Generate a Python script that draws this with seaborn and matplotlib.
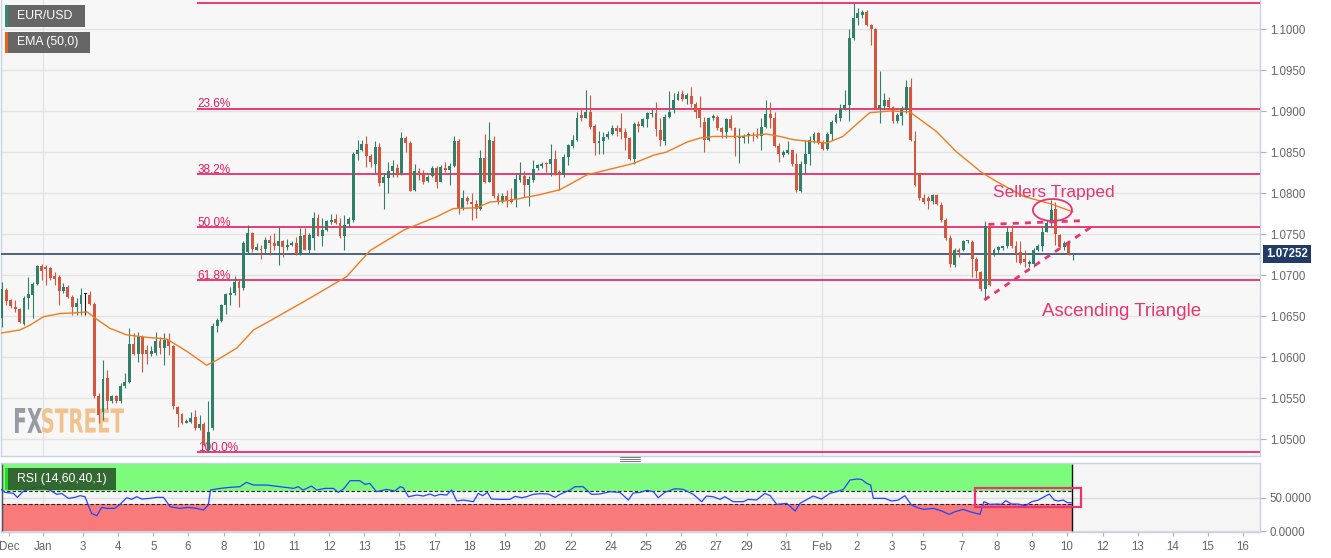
import numpy as np
import pandas as pd
import matplotlib
matplotlib.use("Agg")
import matplotlib.pyplot as plt
import seaborn as sns
from matplotlib.patches import Rectangle, Ellipse, PathPatch
from matplotlib.lines import Line2D
from matplotlib.textpath import TextPath
from matplotlib.font_manager import FontProperties
from matplotlib.transforms import Affine2D, blended_transform_factory
from matplotlib.ticker import FormatStrFormatter

W, H = 1331, 558

# EUR/USD 3h candles, prices in pips above 1.0000 (683 -> 1.0683)
opens = [647, 682, 670, 661, 658, 640, 672, 676, 689, 711,
         710, 708, 699, 697, 681, 685, 673, 661, 665, 677,
         676, 665, 552, 533, 575, 546, 552, 546, 565, 569,
         616, 604, 624, 609, 604, 605, 620, 611, 621, 613,
         539, 530, 520, 521, 527, 514, 518, 487, 514, 638,
         644, 663, 676, 678, 691, 684, 728, 751, 731, 732,
         732, 743, 739, 735, 742, 734, 737, 739, 726, 749,
         731, 745, 769, 747, 755, 765, 768, 763, 748, 762,
         767, 848, 853, 860, 845, 836, 856, 812, 818, 827,
         830, 824, 867, 861, 804, 827, 822, 815, 821, 830,
         814, 831, 828, 833, 864, 781, 794, 789, 787, 780,
         843, 814, 864, 796, 789, 796, 793, 792, 816, 821,
         810, 816, 830, 833, 837, 835, 841, 826, 822, 844,
         857, 865, 895, 892, 899, 882, 861, 863, 868, 872,
         879, 879, 875, 867, 841, 884, 882, 890, 896, 897,
         877, 864, 893, 901, 914, 921, 915, 918, 909, 903,
         887, 865, 892, 893, 879, 874, 890, 879, 867, 867,
         870, 871, 870, 870, 881, 896, 891, 857, 846, 849,
         852, 835, 803, 836, 848, 865, 873, 861, 854, 872,
         887, 892, 904, 907, 989, 1014, 1017, 1021, 1005, 1000,
         904, 906, 914, 905, 888, 894, 901, 929, 863, 824,
         794, 794, 790, 798, 785, 767, 745, 712, 731, 730,
         741, 740, 719, 704, 683, 760, 726, 730, 733, 735,
         753, 735, 728, 720, 714, 714, 730, 735, 753, 764,
         780, 749, 734, 739, 724.8]
highs = [692, 684, 671, 670, 660, 674, 698, 691, 712, 713,
         712, 710, 704, 700, 690, 688, 676, 672, 684, 678,
         680, 667, 556, 596, 584, 554, 554, 568, 580, 635,
         629, 630, 627, 615, 613, 631, 625, 629, 629, 615,
         540, 532, 524, 533, 535, 529, 521, 546, 641, 647,
         665, 678, 686, 699, 694, 741, 761, 753, 739, 737,
         746, 749, 751, 759, 743, 744, 741, 746, 757, 757,
         751, 777, 775, 769, 767, 775, 775, 769, 773, 771,
         850, 865, 865, 869, 848, 863, 861, 824, 838, 840,
         836, 875, 869, 863, 836, 830, 828, 822, 833, 833,
         834, 838, 837, 870, 866, 804, 796, 800, 791, 852,
         872, 887, 870, 800, 800, 804, 806, 825, 838, 827,
         821, 840, 836, 838, 838, 860, 852, 828, 848, 860,
         871, 899, 903, 926, 920, 884, 876, 874, 876, 883,
         883, 898, 879, 868, 887, 888, 892, 899, 903, 911,
         892, 896, 925, 922, 924, 926, 922, 929, 911, 918,
         893, 893, 896, 895, 880, 892, 895, 881, 879, 872,
         874, 875, 879, 891, 914, 911, 899, 861, 853, 864,
         853, 849, 839, 865, 869, 875, 874, 865, 875, 889,
         897, 909, 926, 1000, 1032, 1026, 1023, 1023, 1006, 1001,
         949, 922, 917, 906, 897, 906, 938, 940, 876, 825,
         799, 796, 799, 799, 789, 769, 749, 733, 733, 743,
         743, 743, 722, 705, 766, 761, 733, 735, 736, 759,
         761, 742, 741, 730, 718, 733, 738, 759, 767, 791,
         789, 750, 741, 742, 727]
lows = [637, 663, 660, 655, 641, 639, 659, 647, 688, 694,
        688, 694, 688, 663, 678, 672, 651, 651, 651, 651,
        663, 550, 519, 523, 537, 544, 544, 544, 562, 568,
        602, 594, 582, 592, 601, 602, 604, 590, 602, 537,
        515, 518, 519, 519, 511, 511, 491, 484, 511, 631,
        643, 653, 663, 676, 661, 682, 726, 728, 730, 720,
        726, 724, 730, 712, 722, 731, 735, 724, 724, 730,
        726, 730, 747, 735, 754, 762, 762, 745, 731, 759,
        765, 840, 851, 832, 832, 824, 808, 780, 800, 820,
        820, 822, 850, 802, 802, 816, 811, 813, 819, 806,
        813, 826, 810, 832, 775, 779, 787, 767, 769, 779,
        812, 813, 794, 787, 788, 783, 788, 783, 814, 795,
        784, 814, 828, 830, 826, 821, 822, 804, 820, 834,
        855, 864, 888, 891, 878, 846, 848, 848, 866, 871,
        869, 866, 852, 840, 835, 875, 880, 881, 893, 869,
        857, 859, 891, 898, 913, 912, 909, 905, 891, 881,
        850, 864, 889, 877, 867, 867, 877, 845, 837, 861,
        861, 863, 867, 853, 879, 879, 856, 838, 844, 848,
        833, 801, 801, 825, 834, 861, 860, 852, 852, 865,
        886, 888, 901, 888, 987, 1005, 1013, 1004, 981, 903,
        885, 903, 902, 886, 886, 883, 897, 863, 808, 792,
        787, 781, 787, 785, 765, 743, 710, 710, 722, 729,
        739, 697, 696, 681, 670, 687, 723, 726, 730, 733,
        733, 716, 714, 710, 710, 710, 729, 729, 752, 759,
        737, 733, 731, 724, 718]
closes = [683, 668, 662, 658, 643, 672, 677, 689, 711, 705,
          707, 696, 695, 681, 686, 673, 661, 666, 676, 677,
          665, 552, 529, 573, 546, 552, 546, 565, 569, 616,
          604, 624, 604, 604, 607, 619, 611, 621, 613, 540,
          531, 520, 522, 526, 514, 518, 493, 508, 638, 645,
          663, 677, 678, 691, 684, 739, 751, 732, 734, 730,
          743, 739, 735, 742, 734, 737, 739, 726, 747, 731,
          749, 769, 748, 755, 766, 767, 763, 748, 761, 768,
          848, 852, 860, 845, 838, 856, 812, 820, 827, 833,
          822, 867, 861, 803, 827, 822, 814, 820, 830, 814,
          832, 828, 833, 864, 781, 794, 790, 787, 781, 843,
          814, 865, 796, 789, 796, 792, 789, 817, 822, 810,
          817, 829, 834, 836, 835, 841, 824, 822, 844, 858,
          865, 892, 892, 899, 880, 861, 864, 868, 872, 879,
          876, 875, 867, 842, 884, 882, 890, 897, 898, 878,
          865, 893, 899, 914, 921, 915, 920, 909, 899, 892,
          865, 892, 894, 879, 875, 890, 879, 867, 868, 869,
          872, 869, 868, 881, 896, 891, 857, 848, 850, 852,
          835, 804, 836, 848, 865, 872, 861, 854, 872, 887,
          895, 904, 907, 989, 1013, 1019, 1021, 1005, 1000, 904,
          907, 914, 905, 888, 895, 903, 929, 865, 810, 794,
          789, 790, 798, 787, 767, 745, 714, 731, 728, 742,
          742, 719, 705, 683, 760, 688, 730, 734, 735, 753,
          735, 726, 715, 716, 716, 730, 735, 753, 763, 779,
          750, 734, 739, 726, 725.2]

# EMA(50): candle index -> pips above 1.0000
ema_idx = [-0.5, 4.1, 6.4, 9.4, 13.2, 17, 19.4, 21.6, 24.6, 28.4, 33, 37.5, 42.1, 46.6,
           48.9, 53.5, 57.3, 61, 68.6, 78.5, 83.9, 91.6, 99, 102.8, 108.1, 111.2, 115.7,
           122.5, 127.1, 133.2, 137.7, 143.8, 148.4, 151.4, 156, 159, 162, 168.1, 174.2,
           177.2, 180.3, 184, 187.9, 191.6, 194.7, 197.7, 202.3, 206.8, 212.9, 217.5,
           223.2, 226.6, 232.7, 238.8, 244]
ema_pips = [629, 633, 639, 649, 653, 654, 655, 646, 635, 627, 624, 622, 607, 590,
            596, 611, 633, 644, 667, 698, 730, 755, 771, 781, 782, 789, 791,
            798, 804, 822, 828, 836, 846, 850, 862, 867, 869, 869, 872,
            869, 865, 863, 861, 869, 884, 898, 900, 899, 875, 850,
            825, 814, 796, 787, 777]

# RSI(14)
rsi_idx = [-0.5, 0.7, 2.6, 3.5, 4.9, 7.5, 9.4, 10.9, 12.5, 13.6, 15.1, 16.6, 17.8, 18.9,
           20.4, 21.6, 22.7, 23.8, 25.7, 26.9, 28.4, 29.5, 30.7, 31.8, 33.7, 35.2, 36.8,
           38.3, 40.5, 42.4, 44.3, 45.9, 47, 47.5, 49.7, 51.9, 54.2, 55.7, 57.3, 60.3,
           63.3, 66.4, 67.5, 68.6, 70.5, 71.7, 73.6, 75.5, 76.6, 77.8, 79.3, 81.5, 82.7,
           83.8, 85.3, 87.6, 89.5, 90.7, 91.4, 92.6, 94.5, 96, 97.5, 98.6, 99.8, 101.3,
           102.4, 103.6, 105.1, 107.4, 108.5, 109.5, 110.6, 111.5, 113.4, 115.7, 116.9,
           118.4, 119.5, 121, 122.5, 124.5, 126, 127.1, 129.4, 130.5, 132.4, 134.3,
           136.2, 138.5, 140.8, 142.7, 143.8, 145.3, 146.9, 148.4, 149.5, 151, 153.3,
           155.2, 157.5, 159.4, 160.5, 162, 163.6, 164.7, 166.6, 168.9, 170, 171.9,
           173.8, 175, 176.5, 178.8, 180.7, 181.8, 184.8, 186.7, 188.6, 190.1, 191.7,
           193.2, 194.7, 195.8, 197, 197.9, 198.5, 200, 201.1, 202.7, 204.2, 205.7,
           207.2, 208.4, 209.9, 212.2, 214.1, 215.8, 217.1, 219, 220.5, 222.8, 223.7,
           225.1, 226.6, 227.7, 228.7, 230, 231.5, 233.1, 234.6, 236.1, 237.2, 238.6,
           239.7, 240.6, 241.8, 242.7, 243.7]
rsi_val = [64, 58, 56.5, 50.5, 60, 65.5, 65.5, 61.5, 55, 56.5, 49, 50.5, 53, 51.5,
           26.5, 23, 35.5, 34, 34, 40, 50, 47.5, 51.5, 48, 49, 50.5, 50.5,
           36.5, 34, 35.5, 34, 31.5, 39, 61.5, 64, 65.5, 66.5, 73, 69, 69,
           66.5, 64, 66.5, 61.5, 67.5, 61.5, 64, 64, 58, 63, 75.5, 75.5, 70,
           71.5, 59, 62.5, 60, 66.5, 65, 51.5, 54, 52.5, 55.5, 52.5, 55, 54,
           61.5, 45, 46.5, 44, 56.5, 53, 58, 48, 47.5, 47.5, 52,
           50, 51.5, 55, 56, 55.5, 50.5, 55, 61.5, 66.5, 66.5, 55,
           55.5, 59, 58, 46.5, 57, 58, 61, 59, 50, 58, 63.5,
           62.5, 55, 44, 52.5, 51.5, 47.5, 51.5, 44, 44, 47.5, 46.5,
           56.5, 53, 40, 41.5, 30, 41.5, 52.5, 48, 56.5, 59, 62.5,
           76.5, 78, 77.5, 71.5, 69, 49, 49, 49, 45, 46.5, 53,
           39, 35.5, 32.5, 34, 30, 25, 29, 32.5, 29, 25, 44,
           40, 40.5, 40, 45.5, 40.5, 40.5, 38, 44, 46.5, 50.5, 55.5,
           46.5, 45, 46.5, 42.5, 42.5]

tick_pos = [1.6, 9.4, 18.5, 26.5, 34.5, 42.4, 50.6, 58.5, 66.5, 74.6, 82.5, 90.5,
            98.6, 106.6, 114.6, 122.6, 129.6, 138.7, 146.7, 154.7, 162.6, 169.7, 178.6,
            186.8, 194.8, 202.7, 209.8, 218.7, 226.7, 234.6, 242.6, 250.8, 258.8,
            266.7, 274.7, 282.7]
tick_labels = ["Dec", "Jan", "3", "4", "5", "6", "8", "10", "11", "12", "13", "15",
               "17", "18", "19", "20", "22", "24", "25", "26", "27", "29", "31",
               "Feb", "2", "3", "5", "7", "8", "9", "10", "12", "13", "14", "15", "16"]
month_starts = [9.4, 186.8]

fib_high = 1.1032
fib_low = 1.0484
fib_ratios = [0.0, 0.236, 0.382, 0.5, 0.618, 1.0]
last_price = 1.07252

GREEN = "#2f7f69"
RED = "#d5563f"
FIB = "#e8195e"
PINK = "#e8346f"
NAVY = "#1f3b66"
ORANGE = "#f07c1d"
SPINE = "#c9d1e4"
GRID = "#e3e3e3"


def fig_frac(x, y):
    return x / W, 1 - y / H


def legend_box(fig, x0, y0, x1, y1, stripe, face, label):
    fx, fy = fig_frac(x0, y1)
    fig.add_artist(Rectangle((fx, fy), (x1 - x0) / W, (y1 - y0) / H, transform=fig.transFigure,
                             fc=face, ec="none", alpha=0.92, zorder=20))
    fig.add_artist(Rectangle((fx, fy), 2.5 / W, (y1 - y0) / H, transform=fig.transFigure,
                             fc=stripe, ec="none", zorder=21))
    tx, ty = fig_frac(x0 + 12, (y0 + y1) / 2)
    fig.text(tx, ty, label, color="white", fontsize=8.8, va="center", ha="left", zorder=22)


def word_patch(fig, text, color, x0, x1, y_top, y_bot):
    tp = TextPath((0, 0), text, size=10, prop=FontProperties(family="DejaVu Sans", weight="bold"))
    bb = tp.get_extents()
    tr = (Affine2D().translate(-bb.x0, -bb.y0)
          .scale((x1 - x0) / bb.width / W, (y_bot - y_top) / bb.height / H)
          .translate(x0 / W, 1 - y_bot / H))
    return PathPatch(tp, fc=color, ec="none", transform=tr + fig.transFigure, zorder=1)


def plot_chart():
    sns.set_theme(style="white")
    plt.rcParams["font.family"] = ["Liberation Sans", "DejaVu Sans"]

    df = pd.DataFrame({"open": opens, "high": highs, "low": lows, "close": closes}) / 10000 + 1
    df["idx"] = np.arange(len(df))
    cols = np.where(df["close"] > df["open"], GREEN, np.where(df["close"] < df["open"], RED, "#111111"))
    body_bottom = df[["open", "close"]].min(axis=1)
    body_h = (df["close"] - df["open"]).abs().clip(lower=0.00013)

    fig = plt.figure(figsize=(W / 100, H / 100), dpi=100, facecolor="white")
    ax = fig.add_axes([1 / W, (H - 456) / H, 1259 / W, 456 / H])
    rax = fig.add_axes([1 / W, (H - 531.7) / H, 1259 / W, 68.4 / H])

    xlim = (-0.23, 286.6)

    # ---------------- main price panel ----------------
    ax.set_facecolor("#f7f7f7")
    ax.set_xlim(xlim)
    ax.set_ylim(1.04793, 1.10354)
    ax.set_yticks(np.arange(1.05, 1.10001, 0.005))
    ax.yaxis.set_major_formatter(FormatStrFormatter("%.4f"))
    ax.yaxis.tick_right()
    ax.tick_params(axis="y", right=True, left=False, length=4, width=0.8, color="#a9b1c3",
                   labelsize=8.3, labelcolor="#666666", pad=3)
    ax.tick_params(axis="x", bottom=False, labelbottom=False)
    ax.set_xticks([])
    ax.grid(axis="y", color=GRID, lw=1)
    ax.set_axisbelow(True)
    for m in month_starts:
        ax.axvline(m, color=GRID, lw=1, zorder=0.5)
    for s in ["left", "right", "bottom"]:
        ax.spines[s].set_color(SPINE)
        ax.spines[s].set_linewidth(1)
    ax.spines["top"].set_visible(False)

    # watermark
    ax.add_patch(word_patch(fig, "FX", "#9a9aa3", 15, 42, 408, 433))
    ax.add_patch(word_patch(fig, "STREET", "#f0c28e", 42, 124, 408, 433))

    # fibonacci retracement
    fib_x0 = 44.4
    for r in fib_ratios:
        lvl = fib_high - r * (fib_high - fib_low)
        ax.hlines(lvl, fib_x0, xlim[1], colors=FIB, lw=1.2, zorder=3)
        if r > 0:
            ax.text(fib_x0 + 0.2, lvl + 0.0002, f"{r * 100:.1f}%", color=FIB, fontsize=8.5,
                    ha="left", va="baseline", zorder=3)

    # current price
    ax.axhline(last_price, color=NAVY, lw=1.1, zorder=3)
    ax.text(1.0048, last_price, f"{last_price:.5f}",
            transform=blended_transform_factory(ax.transAxes, ax.transData),
            ha="left", va="center", color="white", fontsize=8.3, fontweight="bold",
            bbox=dict(boxstyle="square,pad=0.25", fc=NAVY, ec="none"), clip_on=False, zorder=10)

    # candles
    ax.vlines(df["idx"], df["low"], df["high"], colors=cols, lw=0.8, zorder=4)
    ax.bar(df["idx"], body_h, bottom=body_bottom, width=0.66, color=cols, linewidth=0, zorder=5)

    # EMA(50)
    ema_price = np.array(ema_pips) / 10000 + 1
    sns.lineplot(x=ema_idx, y=ema_price, ax=ax, color=ORANGE, lw=1.0, zorder=6,
                 estimator=None, sort=False)

    # ascending triangle + annotations
    ax.plot([224.7, 246.3], [1.07618, 1.07663], color=PINK, lw=2, ls=(0, (2.2, 2.2)), zorder=7)
    ax.plot([223.8, 248.8], [1.06696, 1.07610], color=PINK, lw=2, ls=(0, (2.2, 2.2)), zorder=7)
    ax.add_patch(Ellipse((239.3, 1.07793), 8.9, 0.00268, fill=False, ec=PINK, lw=1.3, zorder=7))
    ax.text(225.7, 1.07952, "Sellers Trapped", color=PINK, fontsize=12.5, ha="left",
            va="baseline", zorder=8)
    ax.text(236.9, 1.0650, "Ascending Triangle", color=PINK, fontsize=13.5, ha="left",
            va="baseline", zorder=8)
    ax.set_xlabel("")
    ax.set_ylabel("")

    # ---------------- RSI panel ----------------
    band_end = 243.8
    rax.set_facecolor("#f5f5f5")
    rax.set_xlim(xlim)
    rax.set_ylim(-1, 101.6)
    rax.set_yticks([0, 50])
    rax.yaxis.set_major_formatter(FormatStrFormatter("%.4f"))
    rax.yaxis.tick_right()
    rax.grid(axis="y", color="#dcdcdc", lw=1)
    rax.set_axisbelow(True)
    for m in month_starts:
        rax.axvline(m, color=GRID, lw=1, zorder=0.5)
    rax.add_patch(Rectangle((xlim[0], 60), band_end - xlim[0], 40, fc="#7dfb7d", ec="none", zorder=1))
    rax.add_patch(Rectangle((xlim[0], 0), band_end - xlim[0], 40, fc="#f87a7a", ec="none", zorder=1))
    rax.hlines([60, 40], xlim[0], band_end, colors="#222222", linestyles=(0, (3, 2)), lw=0.8, zorder=2)
    rax.vlines([band_end], 0, 100, colors="#111111", lw=1, zorder=2)
    rax.vlines([xlim[0] + 0.2], 0, 100, colors="#333333", lw=1, zorder=2)
    sns.lineplot(x=rsi_idx, y=rsi_val, ax=rax, color="#2244ff", lw=0.9, zorder=4,
                 estimator=None, sort=False)
    rax.add_patch(Rectangle((221.6, 36), 24.2, 28.5, fill=False, ec=PINK, lw=1.6, zorder=5))

    rax.set_xticks(tick_pos)
    rax.set_xticklabels(tick_labels)
    rax.tick_params(axis="x", bottom=True, length=3, width=0.8, color="#a9b1c3",
                    labelsize=8.3, labelcolor="#666666", pad=4)
    rax.tick_params(axis="y", right=True, left=False, length=4, width=0.8, color="#a9b1c3",
                    labelsize=8.3, labelcolor="#666666", pad=3)
    for s in rax.spines.values():
        s.set_color(SPINE)
        s.set_linewidth(1)
    rax.set_xlabel("")
    rax.set_ylabel("")

    # panel separator handle
    for yy in (457, 459, 461):
        x0, y0 = fig_frac(620, yy)
        x1, _ = fig_frac(640, yy)
        fig.add_artist(Line2D([x0, x1], [y0, y0], transform=fig.transFigure, color="#777777", lw=0.7))

    # legend boxes
    legend_box(fig, 5, 5, 85, 27, "#2e8b74", "#5a5a5a", "EUR/USD")
    legend_box(fig, 5, 32, 90, 53, "#e8641b", "#5a5a5a", "EMA (50,0)")
    legend_box(fig, 5, 468, 116, 490, "#22dd22", "#2d5c2d", "RSI (14,60,40,1)")

    fig.savefig("out.png", dpi=100, facecolor="white")


if __name__ == "__main__":
    plot_chart()
